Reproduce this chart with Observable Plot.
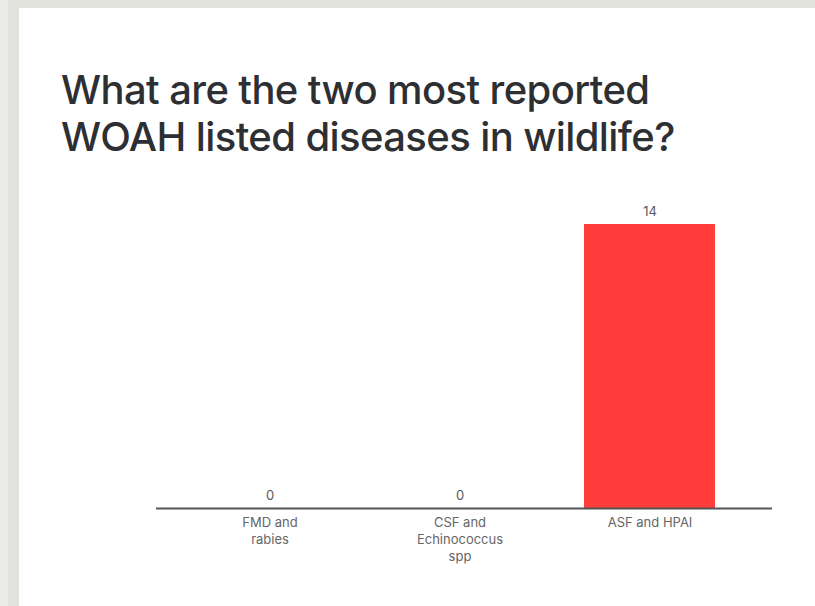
<!DOCTYPE html>
<html>
<head>
<meta charset="utf-8">
<script src="https://cdn.jsdelivr.net/npm/d3@7"></script>
<script src="https://cdn.jsdelivr.net/npm/@observablehq/plot@0.6"></script>
<style>
  html, body { margin: 0; padding: 0; width: 815px; height: 606px; overflow: hidden; background: #e3e3de; }
  #panel { position: absolute; left: 19px; top: 8px; right: 0; bottom: 0; background: #ffffff; }
  #strip { position: absolute; left: 0; top: 0; width: 8px; bottom: 0; background: #ebebe7; }
  h1 { position: absolute; left: 61px; top: 66px; margin: 0; font-family: Inter, "Noto Sans", sans-serif;
       font-weight: 500; font-size: 40px; line-height: 47px; color: #2e2f33; letter-spacing: -0.6px; white-space: nowrap; }
  #chart { position: absolute; left: 0; top: 190px; }
</style>
</head>
<body>
<div id="strip"></div>
<div id="panel"></div>
<h1>What are the two most reported<br>WOAH listed diseases in wildlife?</h1>
<div id="chart"></div>
<script>
const categories = ["FMD and rabies", "CSF and Echinococcus spp", "ASF and HPAI"];
const tickLabels = ["FMD and\nrabies", "CSF and\nEchinococcus\nspp", "ASF and HPAI"];
const values = [0, 0, 14];

const data = categories.map((c, i) => ({category: c, label: tickLabels[i], value: values[i]}));

const chart = Plot.plot({
  width: 815,
  height: 400,
  marginLeft: 156,
  marginRight: 43,
  marginTop: 34,
  marginBottom: 82,
  style: {fontFamily: "Inter, 'Noto Sans', sans-serif", fontSize: "13px", color: "#5e5e5e", background: "transparent"},
  x: {domain: categories, paddingInner: 0.31, paddingOuter: 0.276, align: 0.46, label: null},
  y: {domain: [0, 14], axis: null},
  marks: [
    Plot.barY(data, {x: "category", y: "value", fill: "#ff3d3b"}),
    Plot.ruleY([0], {stroke: "#555", strokeWidth: 2}),
    Plot.text(data, {x: "category", y: "value", text: d => String(d.value), dy: -13, fill: "#5a5a5a", fontSize: 13}),
    Plot.axisX({tickSize: 0, tickPadding: 6, tickFormat: d => tickLabels[categories.indexOf(d)], lineHeight: 1.33, fill: "#666", fontSize: 13})
  ]
});
document.getElementById("chart").appendChild(chart);
</script>
</body>
</html>
